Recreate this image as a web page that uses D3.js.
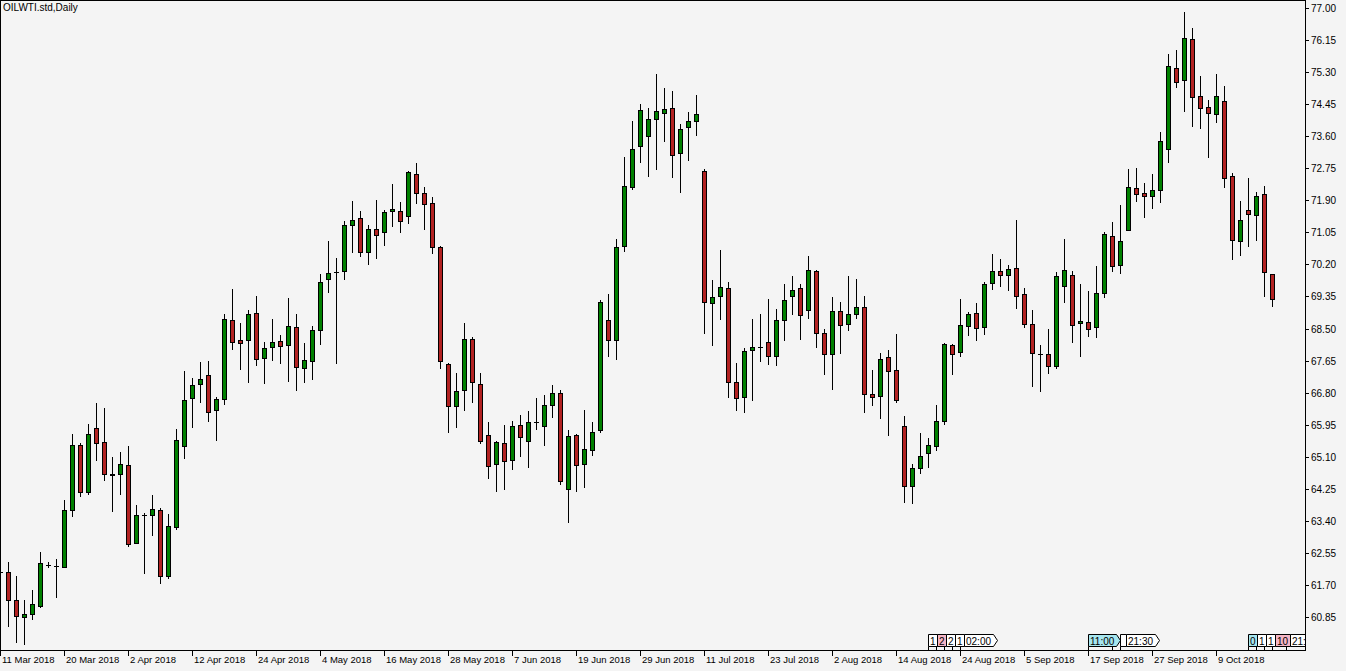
<!DOCTYPE html>
<html><head><meta charset="utf-8">
<script src="https://cdn.jsdelivr.net/npm/d3@7"></script>
<style>
html,body{margin:0;padding:0;background:#f4f4f4;overflow:hidden}
svg{display:block}
text{font-family:"Liberation Sans",Arial,sans-serif;fill:#000}
</style></head><body>
<svg id="chart" width="1346" height="671"></svg>
<script>
const title = "OILWTI.std,Daily";
const opens = [62.06,62.06,61.31,60.86,60.94,61.16,62.24,62.21,62.19,63.69,65.42,64.18,65.88,65.50,64.65,64.66,64.89,62.83,63.57,63.57,
63.70,61.95,63.25,65.40,66.67,67.04,67.28,66.35,66.64,68.74,68.21,68.21,68.93,67.73,68.02,68.18,68.08,68.55,67.47,67.65,
68.47,69.83,70.01,70.04,71.26,71.44,70.54,71.15,71.07,71.63,71.63,71.50,72.61,72.11,71.84,70.68,67.57,66.45,66.88,68.24,
67.04,65.69,64.92,65.48,65.03,65.95,65.53,66.03,65.93,66.48,66.80,64.26,65.69,64.92,65.29,65.82,68.74,68.21,70.70,72.26,
73.35,73.62,74.07,74.23,74.36,73.17,73.86,74.02,72.69,69.19,69.38,69.59,67.10,66.70,67.94,68.02,68.16,67.78,68.74,69.38,
69.59,69.00,70.04,68.39,67.84,68.98,68.63,68.89,69.08,66.77,66.72,67.76,67.41,65.93,64.34,64.82,65.21,65.40,66.06,68.08,
67.89,68.58,68.93,68.55,69.72,70.04,69.93,70.12,69.43,68.63,67.84,67.84,67.52,69.64,69.93,68.66,68.69,68.55,69.45,70.97,
70.20,71.13,72.24,72.11,72.03,72.19,73.27,75.42,75.10,76.19,74.68,74.39,74.20,74.55,72.56,70.83,71.65,71.52,72.08,69.96];
const highs = [62.16,62.32,61.95,61.31,61.57,62.59,62.32,62.40,63.97,65.72,65.48,65.98,66.54,66.41,65.11,65.24,65.40,63.83,63.62,64.10,
63.75,63.60,65.85,67.39,67.20,67.63,67.65,66.70,68.90,69.56,68.66,69.00,69.38,68.16,68.77,68.34,69.32,68.90,68.13,68.58,
69.96,70.83,70.38,71.36,71.90,71.63,71.26,71.92,71.66,72.35,71.87,72.69,72.90,72.27,72.00,70.70,67.60,67.33,68.66,68.29,
67.33,66.03,65.53,65.95,66.06,66.22,66.33,66.67,66.75,67.02,66.88,65.82,65.72,66.35,66.03,69.27,69.43,70.89,73.06,74.02,
74.47,74.36,75.26,74.89,74.81,73.94,74.25,74.71,72.74,69.80,70.60,69.76,67.60,67.99,68.77,68.89,69.30,69.03,69.69,69.90,
69.69,70.44,70.07,68.50,69.35,69.22,69.90,69.83,69.38,67.41,67.86,67.94,68.37,66.19,64.92,65.74,65.61,66.48,68.13,68.10,
69.30,68.95,69.19,69.75,70.49,70.36,70.20,71.39,69.59,69.00,68.08,68.50,70.01,70.88,70.04,69.69,69.51,70.17,71.07,71.34,
71.79,72.74,72.77,72.37,72.61,73.73,75.79,75.90,76.91,76.48,75.21,74.57,75.26,74.95,72.64,71.89,72.50,72.13,72.29,69.96];
const lows = [61.95,60.62,60.20,60.15,60.81,61.13,62.19,61.39,62.18,63.54,64.07,64.13,65.03,64.50,63.68,64.13,62.75,62.83,62.03,63.04,
61.77,61.90,63.20,65.08,65.90,66.57,66.06,65.56,66.51,67.97,67.44,67.10,67.55,67.07,67.68,67.60,67.12,66.88,67.10,67.18,
68.10,69.48,67.60,69.83,70.54,70.44,70.23,70.38,70.73,71.23,71.07,71.31,71.84,71.15,70.52,67.47,65.77,65.90,66.35,66.56,
65.48,64.55,64.20,64.26,64.79,65.13,64.84,65.85,65.42,66.17,64.39,63.38,64.20,64.31,65.16,65.77,67.78,67.70,70.57,72.21,
72.93,72.56,72.74,73.49,72.53,72.13,72.98,73.65,68.39,68.07,68.77,66.70,66.35,66.30,66.61,67.65,67.57,67.55,68.21,68.89,
68.24,68.79,68.02,67.31,66.91,67.86,68.47,68.79,66.30,66.48,66.14,65.69,66.57,63.91,63.89,64.68,64.84,65.29,65.98,67.31,
67.78,68.34,68.21,68.37,69.56,69.64,69.53,69.06,68.55,66.99,66.86,67.33,67.47,69.22,68.16,67.78,68.32,68.29,69.35,70.04,
69.99,71.13,71.90,71.47,71.71,71.87,72.93,74.92,74.28,73.88,73.83,73.06,73.99,72.27,70.36,70.45,70.70,70.86,69.38,69.11];
const closes = [62.05,61.31,60.89,60.94,61.21,62.30,62.25,62.22,63.70,65.42,64.18,65.72,65.48,64.66,64.64,64.92,62.80,63.57,63.58,63.73,
61.95,63.28,65.55,66.61,67.02,67.18,66.30,66.64,68.77,68.16,68.13,68.89,67.70,68.00,68.16,68.05,68.58,67.49,67.68,68.47,
69.75,69.99,70.02,71.26,71.39,70.54,71.15,70.99,71.60,71.68,71.36,72.66,72.11,71.81,70.68,67.65,66.45,66.86,68.24,67.10,
65.53,64.87,65.50,65.00,65.93,65.64,66.03,66.04,66.48,66.80,64.47,65.66,64.89,65.32,65.77,69.22,68.21,70.68,72.29,73.27,
74.31,74.07,74.28,74.34,73.11,73.80,74.02,74.20,69.22,69.35,69.62,67.10,66.67,67.92,68.02,68.03,67.78,68.74,69.27,69.53,
68.87,70.07,68.39,67.84,68.98,68.61,68.89,69.08,66.77,66.70,67.70,67.39,66.61,64.34,64.82,65.13,65.42,66.06,68.10,67.84,
68.61,68.89,68.53,69.69,70.04,69.93,70.09,69.38,68.63,67.86,67.83,67.52,69.90,70.07,68.61,68.71,68.50,69.45,71.02,70.17,
70.83,72.26,72.08,72.03,72.19,73.49,75.47,75.05,76.22,74.65,74.36,74.23,74.68,72.50,70.86,71.39,71.55,72.03,70.01,69.30];
const dateLabels = ["11 Mar 2018","20 Mar 2018","2 Apr 2018","12 Apr 2018","24 Apr 2018","4 May 2018","16 May 2018","28 May 2018",
"7 Jun 2018","19 Jun 2018","29 Jun 2018","11 Jul 2018","23 Jul 2018","2 Aug 2018","14 Aug 2018","24 Aug 2018",
"5 Sep 2018","17 Sep 2018","27 Sep 2018","9 Oct 2018"];
const barsPerDateLabel = 8;
const priceTicks = [77.00,76.15,75.30,74.45,73.60,72.75,71.90,71.05,70.20,69.35,68.50,67.65,66.80,65.95,65.10,64.25,63.40,62.55,61.70,60.85];
// economic calendar markers (bar index, text, importance)
const eventBars  = [116,117,118,119,120,136,139,140,156,157,158,159,160.75];
const eventTexts = ["1","2","2","1","02:00","11:00","","21:30","0","1","1","10","21:30"];
const eventLevels = ["none","high","none","none","none","low","none","none","low","none","none","high","none"];

const W = 1346, H = 671, plotRight = 1305, plotBottom = 650, barStep = 8;
const n = opens.length;
const bars = d3.range(n).map(i => ({i, o: opens[i], h: highs[i], l: lows[i], c: closes[i]}));

const svg = d3.select("#chart");
const x = d3.scaleLinear().domain([0, n - 1]).range([0, (n - 1) * barStep]);
const y = d3.scaleLinear().domain([60.85, 77.00]).range([617.5, 8.5]);

svg.append("rect").attr("width", W).attr("height", H).attr("fill", "#f4f4f4");

const plot = svg.append("g");
plot.append("clipPath").attr("id", "clip").append("rect")
  .attr("x", 0).attr("y", 0).attr("width", plotRight).attr("height", plotBottom);
const cg = plot.append("g").attr("clip-path", "url(#clip)");

const col = d => Math.round(x(d.i));
cg.selectAll("line.wick").data(bars).join("line").attr("class", "wick")
  .attr("x1", d => col(d) + 0.5).attr("x2", d => col(d) + 0.5)
  .attr("y1", d => Math.round(y(d.h))).attr("y2", d => Math.round(y(d.l)) + 1)
  .attr("stroke", "#000").attr("stroke-width", 1);

const bodyTop = d => Math.round(y(Math.max(d.o, d.c)));
const bodyBot = d => Math.round(y(Math.min(d.o, d.c)));
const isDoji = d => bodyBot(d) - bodyTop(d) < 1;

cg.selectAll("rect.body").data(bars.filter(d => !isDoji(d))).join("rect").attr("class", "body")
  .attr("x", d => col(d) - 1.5).attr("width", 4)
  .attr("y", d => bodyTop(d) + 0.5).attr("height", d => bodyBot(d) - bodyTop(d))
  .attr("fill", d => d.c >= d.o ? "#008000" : "#b22222")
  .attr("stroke", "#000").attr("stroke-width", 1);

cg.selectAll("line.doji").data(bars.filter(isDoji)).join("line").attr("class", "doji")
  .attr("x1", d => col(d) - 2).attr("x2", d => col(d) + 3)
  .attr("y1", d => bodyTop(d) + 0.5).attr("y2", d => bodyTop(d) + 0.5)
  .attr("stroke", "#000").attr("stroke-width", 1);

// frame
const frame = svg.append("g").attr("stroke", "#000").attr("stroke-width", 1).attr("shape-rendering", "crispEdges");
frame.append("line").attr("x1", 0.5).attr("x2", 0.5).attr("y1", 0).attr("y2", plotBottom + 1);
frame.append("line").attr("x1", 0).attr("x2", plotRight + 1).attr("y1", 0.5).attr("y2", 0.5);
frame.append("line").attr("x1", plotRight + 0.5).attr("x2", plotRight + 0.5).attr("y1", 0).attr("y2", plotBottom + 1);
frame.append("line").attr("x1", 0).attr("x2", plotRight + 1).attr("y1", plotBottom + 0.5).attr("y2", plotBottom + 0.5);

// price axis
const pa = svg.append("g");
pa.selectAll("line").data(priceTicks).join("line")
  .attr("x1", plotRight + 1).attr("x2", plotRight + 4)
  .attr("y1", d => Math.floor(y(d)) + 0.5).attr("y2", d => Math.floor(y(d)) + 0.5)
  .attr("stroke", "#000");
pa.selectAll("text").data(priceTicks).join("text")
  .attr("x", plotRight + 6).attr("y", d => y(d)).attr("dy", "0.35em")
  .attr("font-size", "10px").text(d => d.toFixed(2));

// time axis
const ta = svg.append("g");
const tickBars = dateLabels.map((t, k) => k * barsPerDateLabel);
ta.selectAll("line").data(tickBars).join("line")
  .attr("x1", d => Math.round(x(d)) + 0.5).attr("x2", d => Math.round(x(d)) + 0.5)
  .attr("y1", plotBottom + 1).attr("y2", plotBottom + 6).attr("stroke", "#000");
ta.selectAll("text").data(dateLabels).join("text")
  .attr("x", (d, k) => Math.round(x(tickBars[k])) + 2).attr("y", 663)
  .attr("font-size", "9.5px").text(d => d);

// title
svg.append("text").attr("x", 3).attr("y", 11).attr("font-size", "10px").text(title);

// event markers
const levelFill = {none: "#ffffff", low: "#a6e6ef", high: "#f5b5c5"};
const eg = svg.append("g").attr("clip-path", "url(#clip)");
let prevEnd = -1;
eventBars.forEach((b, k) => {
  const bx = Math.round(x(b));
  const x0 = Math.max(bx, prevEnd);
  const t = eventTexts[k];
  const txt = eg.append("text").attr("font-size", "10px").attr("y", 645).text(t);
  const tw = t ? txt.node().getComputedTextLength() : 3;
  const isTime = t.includes(":");
  const w = Math.ceil(tw) + (isTime ? 7 : 3);
  const top = 634.5, bot = 646.5;
  const pts = isTime
    ? [[x0 + 0.5, top], [x0 + w - 3.5, top], [x0 + w + 0.5, (top + bot) / 2], [x0 + w - 3.5, bot], [x0 + 0.5, bot]]
    : [[x0 + 0.5, top], [x0 + w + 0.5, top], [x0 + w + 0.5, bot], [x0 + 0.5, bot]];
  eg.insert("polygon", "text").attr("points", pts.map(p => p.join(",")).join(" "))
    .attr("fill", levelFill[eventLevels[k]]).attr("stroke", "#000").attr("stroke-width", 1);
  eg.insert("line", "text").attr("x1", bx + 0.5).attr("x2", bx + 0.5).attr("y1", bot).attr("y2", plotBottom)
    .attr("stroke", "#000");
  txt.attr("x", x0 + 2);
  txt.raise();
  prevEnd = x0 + w;
});
</script>
</body></html>
